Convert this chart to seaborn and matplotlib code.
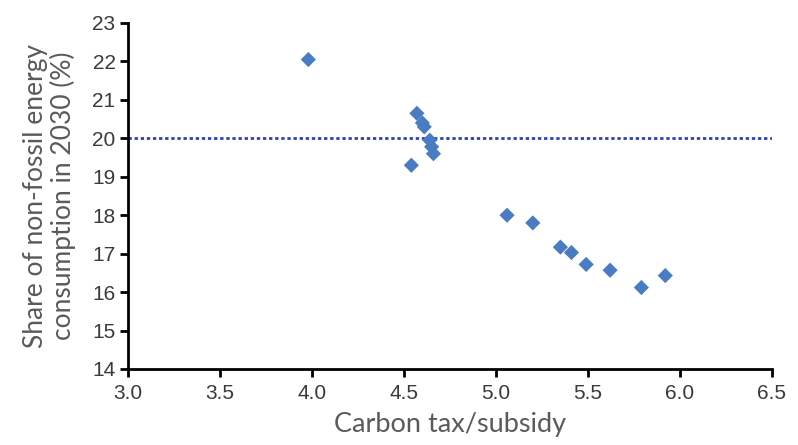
"""Scatter of non-fossil energy share in 2030 against carbon tax/subsidy."""

import matplotlib

matplotlib.use("Agg")
import matplotlib.pyplot as plt
import pandas as pd
import seaborn as sns

# values
carbon_tax = [3.98, 4.57, 4.60, 4.61, 4.64, 4.65, 4.66, 4.54,
              5.06, 5.20, 5.35, 5.41, 5.49, 5.62, 5.79, 5.92]
nonfossil_share = [22.05, 20.65, 20.40, 20.30, 19.95, 19.78, 19.60, 19.30,
                   18.00, 17.80, 17.17, 17.03, 16.72, 16.57, 16.12, 16.43]
target_share = 20.0
x_ticks = [3.0, 3.5, 4.0, 4.5, 5.0, 5.5, 6.0, 6.5]
y_ticks = list(range(14, 24))

MARKER_COLOR = "#4a7cc4"
LINE_COLOR = "#3141b8"
LABEL_COLOR = "#5a5a5a"
TICK_COLOR = "#3a3a3a"


def main() -> None:
    df = pd.DataFrame({"carbon_tax": carbon_tax, "share": nonfossil_share})

    sns.set_theme(style="ticks")
    plt.rcParams["font.family"] = ["Liberation Sans", "DejaVu Sans"]

    fig = plt.figure(figsize=(7.98, 4.45), dpi=100)
    ax = fig.add_axes([128 / 798, 1 - 369 / 445, (772 - 128) / 798, (369 - 23) / 445])

    ax.axhline(target_share, color=LINE_COLOR, linestyle=(0, (1.2, 1.0)), linewidth=2.0, zorder=1)
    sns.scatterplot(data=df, x="carbon_tax", y="share", marker="D", s=60,
                    color=MARKER_COLOR, edgecolor="none", ax=ax, zorder=3)

    ax.set_xlim(3.0, 6.5)
    ax.set_ylim(14, 23)
    ax.set_xticks(x_ticks)
    ax.set_xticklabels([f"{t:.1f}" for t in x_ticks])
    ax.set_yticks(y_ticks)
    ax.tick_params(axis="both", direction="out", length=6, width=2, color="black",
                   labelsize=15, labelcolor=TICK_COLOR)
    ax.tick_params(axis="x", pad=5)
    ax.tick_params(axis="y", pad=3)
    for side in ("top", "right"):
        ax.spines[side].set_visible(False)
    for side in ("left", "bottom"):
        ax.spines[side].set_linewidth(2)
        ax.spines[side].set_color("black")

    ax.set_xlabel("Carbon tax/subsidy", fontsize=19.5, color=LABEL_COLOR,
                  family=["Lato", "DejaVu Sans"], labelpad=6)
    ax.set_ylabel("Share of non-fossil energy\nconsumption in 2030 (%)", fontsize=19,
                  color=LABEL_COLOR, family=["Lato", "DejaVu Sans"], labelpad=12,
                  linespacing=1.05)

    fig.savefig("out.png", dpi=100)
    plt.close(fig)


if __name__ == "__main__":
    main()
